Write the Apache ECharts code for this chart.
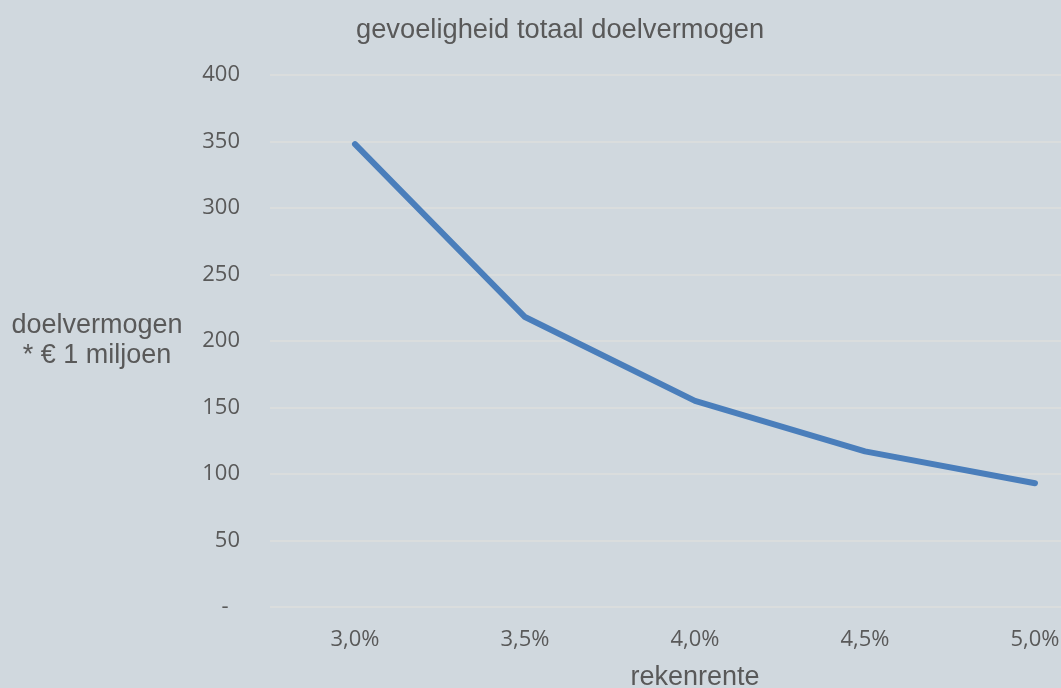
<!DOCTYPE html>
<html>
<head>
<meta charset="utf-8">
<script src="https://cdn.jsdelivr.net/npm/echarts@6/dist/echarts.min.js"></script>
<style>
  html, body { margin: 0; padding: 0; background: #d0d8de; }
  #chart { width: 1061px; height: 688px; }
</style>
</head>
<body>
<div id="chart"></div>
<script>
// rekenrente categories
const rentes = ['3,0%', '3,5%', '4,0%', '4,5%', '5,0%'];
// doelvermogen * € 1 miljoen
const doelvermogen = [348, 218, 155, 117, 93];

const myChart = echarts.init(document.getElementById('chart'));

const option = {
    backgroundColor: '#d0d8de',
    animation: false,
    title: {
        text: 'gevoeligheid totaal doelvermogen',
        left: 351, top: 12,
        textStyle: { color: '#595959', fontFamily: 'Liberation Sans', fontSize: 27.3, fontWeight: 'normal' }
    },
    grid: { left: 270, top: 75, width: 850, height: 532, outerBoundsMode: 'none', containLabel: false },
    xAxis: {
        type: 'category',
        data: rentes,
        boundaryGap: true,
        axisLine: { show: false },
        axisTick: { show: false },
        axisLabel: { color: '#595959', fontFamily: 'Open Sans', fontSize: 22, margin: 22 },
        name: 'rekenrente',
        nameLocation: 'middle',
        nameGap: 57,
        nameTextStyle: { color: '#595959', fontFamily: 'Liberation Sans', fontSize: 27 }
    },
    yAxis: {
        type: 'value',
        min: 0, max: 400, interval: 50,
        axisLine: { show: false },
        axisTick: { show: false },
        splitLine: { lineStyle: { color: '#dedfdc', width: 1.5 } },
        axisLabel: {
            color: '#595959', fontFamily: 'Open Sans', fontSize: 22, margin: 30,
            formatter: v => v === 0 ? '-  ' : String(v)
        },
        name: 'doelvermogen\n* € 1 miljoen',
        nameLocation: 'middle',
        nameRotate: 0,
        nameGap: 173,
        nameTextStyle: {
            color: '#595959', fontFamily: 'Liberation Sans', fontSize: 27,
            align: 'center', lineHeight: 30, padding: [8, 0, 0, 0]
        }
    },
    series: [{
        type: 'line',
        data: doelvermogen,
        symbol: 'none',
        lineStyle: { color: '#4a7ebb', width: 6, cap: 'round', join: 'round' }
    }]
};

myChart.setOption(option);
</script>
</body>
</html>
